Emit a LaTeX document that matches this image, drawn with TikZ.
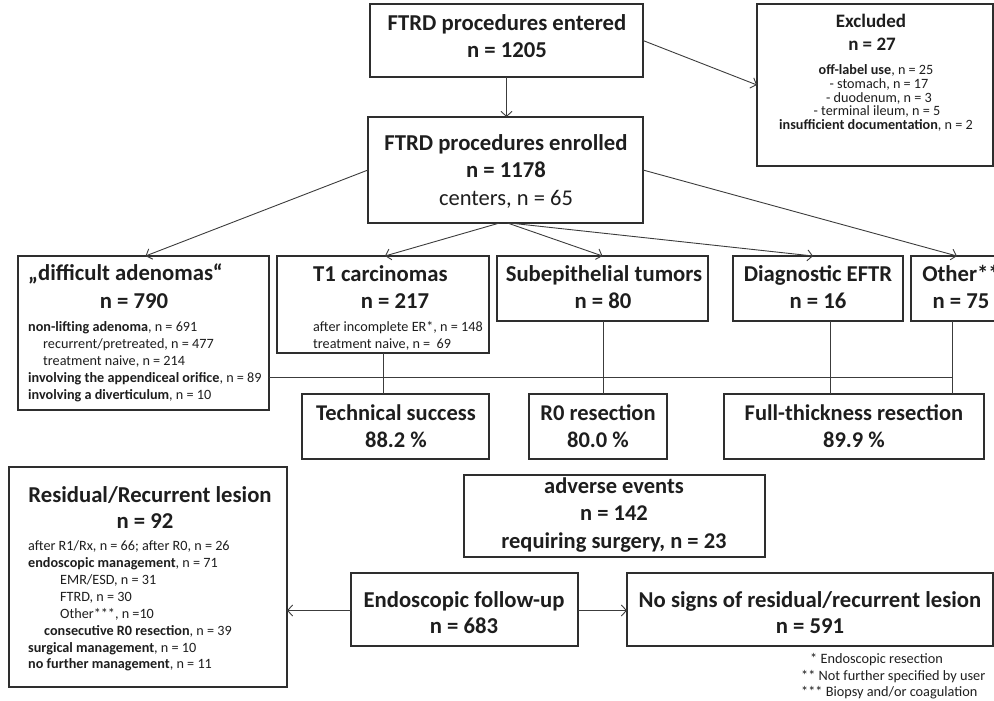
\documentclass[tikz,border=0pt]{standalone}
\usepackage{fontspec}
\setmainfont{Carlito}
\usetikzlibrary{arrows.meta,fit}
\definecolor{ink}{HTML}{1E1E1E}
\definecolor{edge}{HTML}{2E2E2E}
\definecolor{wire}{HTML}{3C3C3C}
\tikzset{
  box/.style={draw=edge, line width=1.5pt, inner sep=0pt, outer sep=0pt, fill=white},
  conn/.style={draw=wire, line width=0.9pt},
  arr/.style={conn, -{Straight Barb[length=5pt,width=11pt,line width=0.9pt]}},
  big/.style={text=ink, inner sep=0pt, anchor=mid, font=\fontsize{22.7}{25}\selectfont\bfseries},
  mbig/.style={big, font=\fontsize{22.5}{25}\selectfont\bfseries},
  bigr/.style={big, font=\fontsize{22.5}{25}\selectfont},
  exbig/.style={big, font=\fontsize{19}{22}\selectfont\bfseries},
  small/.style={text=ink, inner sep=0pt, anchor=mid west, font=\fontsize{14.2}{17}\selectfont},
  smallc/.style={small, anchor=mid, font=\fontsize{14.2}{16}\selectfont},
  foot/.style={text=ink, inner sep=0pt, anchor=mid west, font=\fontsize{14.3}{16}\selectfont},
}
\begin{document}
\begin{tikzpicture}[x=1pt,y=-1pt]
\useasboundingbox (0,0) rectangle (994,701);

% ---------- boxes ----------
\node[box, fit={(370,4) (643,77)}] (entered) {};
\node[box, fit={(368,117) (643,223)}] (enrolled) {};
\node[box, fit={(757,4) (993,166)}] (excluded) {};
\node[box, fit={(18,256) (269,410)}] (diff) {};
\node[box, fit={(277,256) (489,353)}] (tone) {};
\node[box, fit={(497,256) (708,321)}] (sub) {};
\node[box, fit={(733,256) (903,321)}] (diag) {};
\node[box, fit={(911,256) (1013,321)}] (other) {};
\node[box, fit={(302,394) (489,459)}] (tech) {};
\node[box, fit={(529,394) (667,459)}] (rzero) {};
\node[box, fit={(724,394) (984,459)}] (full) {};
\node[box, fit={(464,475) (765,557)}] (adverse) {};
\node[box, fit={(351,573) (578,646)}] (follow) {};
\node[box, fit={(627,573) (993,646)}] (nosigns) {};
\node[box, fit={(9,467) (287,687)}] (resid) {};

% ---------- texts ----------
\begin{scope}[shift={(0,3.5)}]
\node[big] (t-ent1) at (507,25) {FTRD procedures entered};
\node[big] (t-ent2) at (507,52) {n = 1205};
\node[big] (t-enr1) at (506,145) {FTRD procedures enrolled};
\node[big] (t-enr2) at (506,172) {n = 1178};
\node[bigr] (t-enr3) at (506,200) {centers, n = 65};

\node[exbig] (t-ex1) at (871,22) {Excluded};
\node[exbig] (t-ex2) at (872,45) {n = 27};
\node[smallc] (t-ex3) at (876,69) {\textbf{off-label use}, n = 25};
\node[smallc] (t-ex4) at (879,83) {- stomach, n = 17};
\node[smallc] (t-ex5) at (879,97) {- duodenum, n = 3};
\node[smallc] (t-ex6) at (877,110) {- terminal ileum, n = 5};
\node[smallc] (t-ex7) at (876,124) {\textbf{insufficient documentation}, n = 2};

\node[big, anchor=mid west] (t-d1) at (28,275) {„difficult adenomas“};
\node[big] (t-d2) at (134,303) {n = 790};
\node[small] (t-d3) at (28,326) {\textbf{non-lifting adenoma}, n = 691};
\node[small] (t-d4) at (43,343) {recurrent/pretreated, n = 477};
\node[small] (t-d5) at (43,360) {treatment naive, n = 214};
\node[small] (t-d6) at (28,377) {\textbf{involving the appendiceal orifice}, n = 89};
\node[small] (t-d7) at (28,394) {\textbf{involving a diverticulum}, n = 10};

\node[big, anchor=mid west] (t-c1) at (313,276) {T1 carcinomas};
\node[big] (t-c2) at (395,303) {n = 217};
\node[small] (t-c3) at (313,326) {after incomplete ER*, n = 148};
\node[small] (t-c4) at (313,343) {treatment naive, n =\ \ 69};

\node[big] (t-s1) at (604,276) {Subepithelial tumors};
\node[big] (t-s2) at (603,303) {n = 80};
\node[big] (t-g1) at (818,276) {Diagnostic EFTR};
\node[big] (t-g2) at (818,303) {n = 16};
\node[big] (t-o1) at (961,276) {Other**};
\node[big] (t-o2) at (961,303) {n = 75};

\node[mbig] (t-t1) at (396,415) {Technical success};
\node[mbig] (t-t2) at (396,442) {88.2 \%};
\node[mbig] (t-r1) at (598,415) {R0 resection};
\node[mbig] (t-r2) at (598,442) {80.0 \%};
\node[mbig] (t-f1) at (854,415) {Full-thickness resection};
\node[mbig] (t-f2) at (854,442) {89.9 \%};

\node[mbig] (t-a1) at (614,488) {adverse events};
\node[mbig] (t-a2) at (614,515) {n = 142};
\node[mbig] (t-a3) at (614,543) {requiring surgery, n = 23};

\node[big] (t-fu1) at (464,602) {Endoscopic follow-up};
\node[big] (t-fu2) at (464,628) {n = 683};
\node[big] (t-ns1) at (810,602) {No signs of residual/recurrent lesion};
\node[big] (t-ns2) at (810,628) {n = 591};

\node[big] (t-re1) at (150,497) {Residual/Recurrent lesion};
\node[big] (t-re2) at (145,523) {n = 92};
\node[small] (t-re3) at (28,545) {after R1/Rx, n = 66; after R0, n = 26};
\node[small] (t-re4) at (28,562) {\textbf{endoscopic management}, n = 71};
\node[small] (t-re5) at (60,579) {EMR/ESD, n = 31};
\node[small] (t-re6) at (60,596) {FTRD, n = 30};
\node[small] (t-re7) at (60,613) {Other***, n =10};
\node[small] (t-re8) at (44,630) {\textbf{consecutive R0 resection}, n = 39};
\node[small] (t-re9) at (28,647) {\textbf{surgical management}, n = 10};
\node[small] (t-re10) at (28,663) {\textbf{no further management}, n = 11};

\node[foot] (fn1) at (810,658) {* Endoscopic resection};
\node[foot] (fn2) at (801,675) {** Not further specified by user};
\node[foot] (fn3) at (801,691) {*** Biopsy and/or coagulation};
\end{scope}

% ---------- connectors ----------
\draw[arr] (entered.south) -- (entered.south |- enrolled.north);
\draw[arr] (entered.east) -- (excluded.west);
\draw[arr] (enrolled.west) -- ([xshift=2pt]diff.north);
\draw[arr] ([xshift=-6pt]enrolled.south) -- ([xshift=2pt]tone.north);
\draw[arr] ([xshift=2pt]enrolled.south) -- (sub.north);
\draw[arr] ([xshift=4pt]enrolled.south) -- ([xshift=-5pt]diag.north);
\draw[arr] (enrolled.east) -- ([xshift=-5pt]other.north);

\coordinate (tline) at (tone.south);
\coordinate (sline) at ([xshift=1pt]sub.south);
\coordinate (gline) at ([xshift=12pt]diag.south);
\coordinate (oline) at ([xshift=-10pt]other.south);
\coordinate (hstart) at (diff.east |- 0,377);
\draw[conn] (tline) -- (tline |- tech.north);
\draw[conn] (sline) -- (sline |- rzero.north);
\draw[conn] (gline) -- (gline |- full.north);
\draw[conn] (oline) -- (oline |- full.north);
\draw[conn] (hstart) -- (hstart -| oline);

\draw[arr] ([yshift=-1pt]follow.east) -- ([yshift=-1pt]follow.east -| nosigns.west);
\draw[arr] ([yshift=-1pt]follow.west) -- ([yshift=-1pt]follow.west -| resid.east);
\end{tikzpicture}
\end{document}
